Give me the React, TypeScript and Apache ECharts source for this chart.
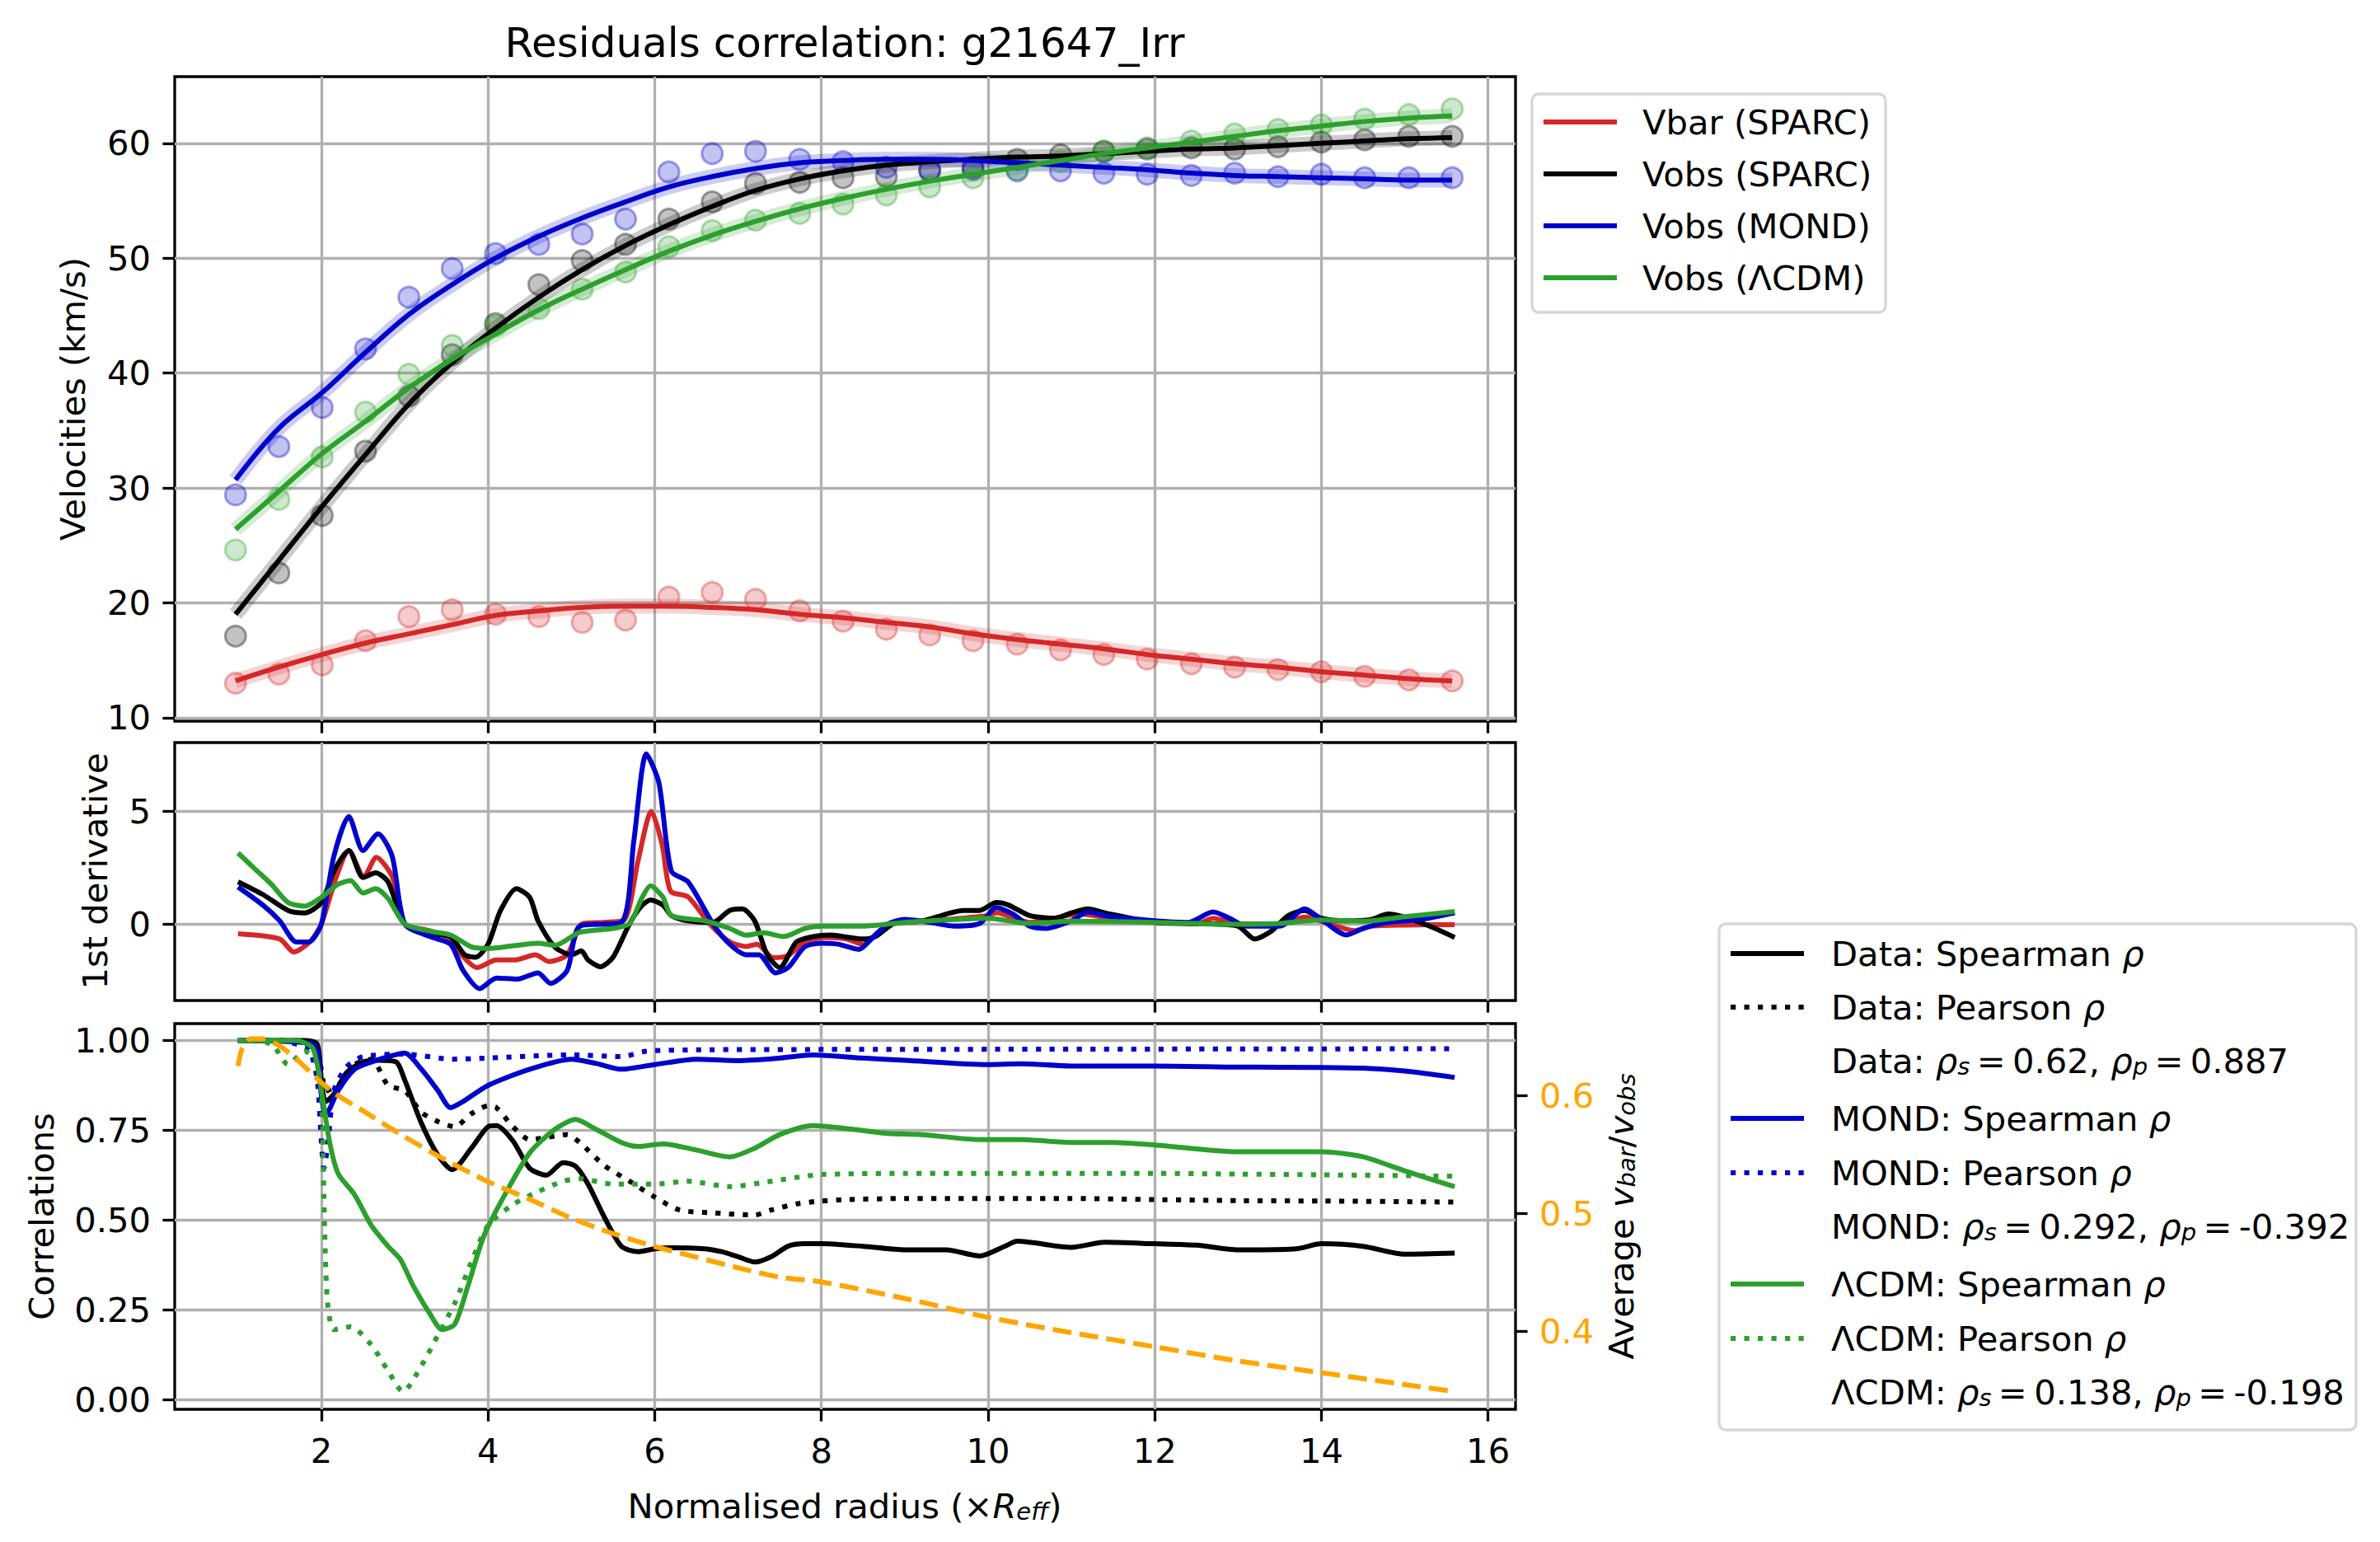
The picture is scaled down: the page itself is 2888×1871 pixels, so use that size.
import React, { useEffect, useRef } from "react";
import * as echarts from "echarts";

const W = 2888;
const H = 1871;
const FONT = '"DejaVu Sans", sans-serif';
const FS = 41.7;

const RED = "#d62728";
const BLACK = "#000000";
const BLUE = "#0000cd";
const GREEN = "#2ca02c";
const ORANGE = "#ffa500";

// ---- tick labels ----
const xTicks = [2, 4, 6, 8, 10, 12, 14, 16];
const vTicks = [10, 20, 30, 40, 50, 60];
const dTicks = [0, 5];
const cTicks = [0, 0.25, 0.5, 0.75, 1.0];
const aTicks = [0.4, 0.5, 0.6];

// ---- top panel: velocities ----
const radius = [0.97, 1.49, 2.01, 2.53, 3.05, 3.57, 4.09, 4.61, 5.13, 5.65, 6.17, 6.69, 7.21, 7.74, 8.26, 8.78, 9.3, 9.82, 10.35, 10.87, 11.39, 11.91, 12.44, 12.96, 13.48, 14.0, 14.52, 15.05, 15.57];
const vbarPts = [13.0, 13.8, 14.6, 16.7, 18.8, 19.4, 19.0, 18.8, 18.3, 18.5, 20.5, 20.9, 20.3, 19.3, 18.4, 17.7, 17.2, 16.7, 16.4, 15.9, 15.5, 15.1, 14.7, 14.4, 14.2, 14.0, 13.6, 13.3, 13.2];
const vbarFit = [13.2, 14.4, 15.5, 16.5, 17.3, 18.1, 18.9, 19.3, 19.6, 19.7, 19.7, 19.6, 19.4, 19.0, 18.7, 18.3, 17.9, 17.3, 16.8, 16.4, 16.0, 15.5, 15.1, 14.7, 14.4, 14.0, 13.7, 13.4, 13.2];
const vobsPts = [17.1, 22.6, 27.6, 33.2, 38.0, 41.6, 44.3, 47.7, 49.8, 51.2, 53.4, 54.9, 56.5, 56.6, 57.0, 57.1, 57.6, 57.9, 58.6, 59.0, 59.3, 59.5, 59.6, 59.5, 59.7, 60.1, 60.3, 60.6, 60.6];
const vobsFit = [19.0, 23.7, 28.4, 32.9, 37.3, 40.9, 43.9, 46.6, 49.0, 51.1, 52.9, 54.5, 55.9, 56.9, 57.6, 58.1, 58.4, 58.6, 58.8, 58.9, 59.1, 59.3, 59.5, 59.6, 59.8, 60.0, 60.2, 60.4, 60.5];
const mondPts = [29.4, 33.6, 37.0, 42.1, 46.6, 49.1, 50.4, 51.2, 52.1, 53.4, 57.5, 59.1, 59.3, 58.6, 58.4, 57.9, 57.7, 57.7, 57.6, 57.6, 57.4, 57.3, 57.2, 57.4, 57.1, 57.3, 57.0, 57.0, 57.0];
const mondFit = [30.7, 35.2, 38.3, 41.8, 45.1, 47.7, 50.0, 51.9, 53.5, 54.9, 56.2, 57.1, 57.8, 58.3, 58.5, 58.6, 58.6, 58.5, 58.3, 58.1, 57.9, 57.7, 57.4, 57.2, 57.1, 57.0, 56.9, 56.8, 56.8];
const lcdmPts = [24.6, 29.0, 32.7, 36.6, 39.9, 42.4, 44.1, 45.6, 47.3, 48.8, 51.0, 52.4, 53.3, 53.9, 54.7, 55.5, 56.2, 57.0, 57.7, 58.4, 59.3, 59.6, 60.2, 60.8, 61.2, 61.6, 62.1, 62.5, 63.0];
const lcdmFit = [26.4, 29.7, 33.0, 35.8, 38.7, 41.2, 43.4, 45.5, 47.3, 49.0, 50.6, 52.0, 53.2, 54.3, 55.2, 56.0, 56.7, 57.3, 57.9, 58.5, 59.1, 59.6, 60.1, 60.6, 61.1, 61.5, 61.9, 62.2, 62.4];

// ---- middle panel: 1st derivative ----
const dRedX = [1.0, 1.5, 1.67, 1.86, 2.0, 2.18, 2.33, 2.51, 2.66, 2.85, 3.0, 3.3, 3.55, 3.68, 3.87, 4.1, 4.32, 4.57, 4.73, 4.95, 5.13, 5.39, 5.64, 5.8, 5.96, 6.09, 6.19, 6.4, 6.66, 6.9, 7.1, 7.23, 7.42, 7.6, 7.8, 8.04, 8.3, 8.5, 8.7, 8.85, 9.0, 9.5, 10.0, 10.1, 10.5, 11.1, 11.5, 12.5, 12.7, 13.0, 13.5, 13.8, 14.1, 14.4, 14.6, 15.0, 15.6];
const dRedY = [-0.44, -0.67, -1.25, -0.8, 0, 2.1, 3.26, 2.1, 2.96, 2.1, 0, -0.3, -0.67, -1.37, -1.94, -1.6, -1.6, -1.37, -1.67, -1.37, 0, 0.07, 0.2, 2.8, 5.0, 3.5, 1.46, 1.2, 0, -0.8, -1.0, -0.9, -1.5, -1.4, -0.8, -0.6, -0.67, -0.9, -0.3, 0, 0.07, 0.2, 0.37, 0.5, 0.07, 0.44, 0.25, 0.0, 0.25, 0, 0, 0.3, 0.0, -0.3, -0.1, -0.05, -0.03];
const dBlackX = [1.0, 1.3, 1.6, 1.8, 2.0, 2.15, 2.33, 2.5, 2.65, 2.8, 3.0, 3.3, 3.55, 3.72, 3.85, 4.0, 4.15, 4.34, 4.5, 4.6, 4.8, 5.0, 5.12, 5.2, 5.35, 5.5, 5.7, 5.85, 5.95, 6.1, 6.2, 6.4, 6.7, 6.9, 7.05, 7.2, 7.35, 7.5, 7.7, 7.9, 8.1, 8.5, 8.65, 8.9, 9.2, 9.5, 9.7, 9.9, 10.1, 10.25, 10.5, 10.8, 11.0, 11.2, 11.4, 12.0, 12.5, 13.0, 13.2, 13.4, 13.6, 13.8, 14.0, 14.3, 14.6, 14.8, 15.0, 15.3, 15.6];
const dBlackY = [1.87, 1.3, 0.6, 0.49, 0.95, 2.34, 3.26, 2.06, 2.27, 1.87, 0, -0.44, -0.56, -1.37, -1.48, -0.9, 0.6, 1.57, 1.18, 0.14, -1.02, -1.37, -1.2, -1.6, -1.9, -1.48, 0.02, 0.83, 1.06, 0.83, 0.37, 0.14, 0.07, 0.6, 0.67, 0.14, -1.37, -1.94, -0.8, -0.56, -0.49, -0.67, -0.56, 0.07, 0.12, 0.44, 0.6, 0.6, 0.95, 0.83, 0.37, 0.25, 0.49, 0.67, 0.49, 0.07, 0.02, -0.1, -0.67, -0.32, 0.37, 0.6, 0.25, 0.14, 0.2, 0.44, 0.3, -0.1, -0.6];
const dBlueX = [1.0, 1.3, 1.5, 1.7, 1.85, 2.0, 2.15, 2.33, 2.5, 2.68, 2.85, 3.0, 3.3, 3.55, 3.7, 3.9, 4.1, 4.35, 4.6, 4.75, 4.95, 5.1, 5.6, 5.75, 5.9, 6.05, 6.2, 6.4, 6.7, 6.9, 7.1, 7.25, 7.45, 7.6, 7.8, 8.0, 8.2, 8.45, 8.6, 8.8, 9.0, 9.3, 9.6, 9.9, 10.1, 10.3, 10.5, 10.7, 11.0, 11.2, 11.4, 12.0, 12.4, 12.7, 12.9, 13.1, 13.5, 13.8, 14.0, 14.3, 14.5, 14.8, 15.2, 15.6];
const dBlueY = [1.64, 0.83, 0.14, -0.8, -0.8, 0, 3.0, 4.77, 3.26, 4.0, 3.0, 0, -0.56, -0.9, -2.06, -2.87, -2.4, -2.45, -2.17, -2.64, -2.06, -0.1, 0.07, 3.7, 7.55, 6.27, 2.34, 1.87, 0, -0.9, -1.37, -1.37, -2.17, -1.94, -1.02, -0.86, -0.9, -1.13, -0.67, 0, 0.2, 0.07, -0.1, 0.02, 0.72, 0.44, -0.1, -0.2, 0.14, 0.53, 0.37, 0.14, 0.07, 0.53, 0.25, -0.1, -0.1, 0.67, 0.2, -0.49, -0.2, 0.07, 0.2, 0.49];
const dGreenX = [1.0, 1.2, 1.4, 1.6, 1.8, 2.0, 2.2, 2.35, 2.5, 2.65, 2.8, 3.0, 3.3, 3.55, 3.8, 4.0, 4.3, 4.6, 4.8, 5.1, 5.5, 5.7, 5.85, 5.95, 6.1, 6.2, 6.6, 6.9, 7.1, 7.3, 7.55, 7.8, 8.0, 8.5, 9.0, 10.0, 10.5, 11.0, 12.0, 13.0, 13.5, 14.0, 14.5, 15.0, 15.6];
const dGreenY = [3.15, 2.45, 1.76, 0.95, 0.79, 1.18, 1.76, 1.92, 1.37, 1.57, 1.13, 0, -0.32, -0.49, -1.02, -1.09, -0.97, -0.86, -0.95, -0.37, -0.2, 0.02, 1.18, 1.69, 1.18, 0.37, 0.14, -0.2, -0.5, -0.39, -0.56, -0.2, -0.1, -0.1, 0.07, 0.25, 0.02, 0.12, 0.07, -0.02, 0.02, 0.18, 0.12, 0.32, 0.55];

// ---- bottom panel: correlations ----
const cDataSX = [1.0, 1.5, 1.8, 1.95, 2.0, 2.05, 2.15, 2.3, 2.5, 2.7, 2.9, 3.0, 3.2, 3.4, 3.57, 3.8, 4.0, 4.1, 4.3, 4.5, 4.7, 4.9, 5.05, 5.2, 5.4, 5.6, 5.8, 6.0, 6.2, 6.6, 6.8, 7.0, 7.2, 7.4, 7.6, 7.8, 8.0, 8.5, 9.0, 9.5, 9.9, 10.2, 10.35, 11.0, 11.4, 12.0, 12.5, 13.0, 13.7, 14.0, 14.5, 15.0, 15.6];
const cDataSY = [1.0, 1.0, 1.0, 0.99, 0.89, 0.83, 0.85, 0.91, 0.94, 0.945, 0.94, 0.89, 0.77, 0.68, 0.64, 0.7, 0.76, 0.763, 0.72, 0.644, 0.625, 0.66, 0.65, 0.6, 0.506, 0.427, 0.412, 0.42, 0.423, 0.42, 0.412, 0.398, 0.383, 0.398, 0.427, 0.434, 0.434, 0.427, 0.417, 0.417, 0.4, 0.427, 0.441, 0.424, 0.438, 0.434, 0.43, 0.417, 0.42, 0.434, 0.427, 0.405, 0.408];
const cDataPX = [1.0, 1.7, 1.9, 2.0, 2.05, 2.2, 2.4, 2.6, 2.8, 3.0, 3.2, 3.4, 3.6, 3.8, 4.0, 4.1, 4.3, 4.5, 4.7, 4.95, 5.1, 5.4, 5.7, 6.0, 6.3, 6.7, 7.2, 7.4, 7.7, 8.0, 8.3, 9.0, 10.0, 11.0, 12.0, 13.0, 14.0, 15.6];
const cDataPY = [1.0, 1.0, 0.977, 0.92, 0.86, 0.875, 0.933, 0.948, 0.875, 0.86, 0.8, 0.774, 0.76, 0.796, 0.818, 0.813, 0.76, 0.724, 0.73, 0.738, 0.716, 0.651, 0.608, 0.564, 0.528, 0.52, 0.514, 0.528, 0.545, 0.553, 0.557, 0.56, 0.56, 0.56, 0.557, 0.554, 0.553, 0.55];
const cMondSX = [1.0, 1.9, 2.0, 2.05, 2.1, 2.2, 2.4, 2.6, 2.8, 3.0, 3.2, 3.4, 3.55, 3.7, 4.0, 4.5, 5.0, 5.3, 5.6, 6.0, 6.5, 7.0, 7.5, 7.9, 8.5, 9.0, 10.0, 10.4, 11.0, 12.0, 13.0, 14.0, 14.5, 15.0, 15.6];
const cMondSY = [1.0, 0.99, 0.847, 0.796, 0.81, 0.86, 0.92, 0.94, 0.955, 0.965, 0.92, 0.86, 0.813, 0.83, 0.875, 0.92, 0.948, 0.936, 0.92, 0.933, 0.948, 0.944, 0.951, 0.96, 0.951, 0.945, 0.933, 0.935, 0.929, 0.929, 0.926, 0.925, 0.923, 0.915, 0.897];
const cMondPX = [1.0, 1.5, 1.7, 1.85, 1.95, 2.0, 2.03, 2.08, 2.15, 2.3, 2.5, 3.0, 3.57, 4.0, 5.0, 5.6, 5.9, 6.5, 8.0, 15.6];
const cMondPY = [1.0, 1.0, 0.99, 0.977, 0.89, 0.716, 0.644, 0.716, 0.86, 0.926, 0.955, 0.962, 0.948, 0.951, 0.96, 0.955, 0.97, 0.974, 0.975, 0.977];
const cLcdmSX = [1.0, 1.7, 1.9, 2.0, 2.1, 2.2, 2.4, 2.6, 2.8, 2.95, 3.1, 3.3, 3.45, 3.6, 3.75, 3.95, 4.2, 4.5, 4.8, 5.05, 5.3, 5.6, 5.8, 6.1, 6.5, 6.9, 7.2, 7.5, 7.9, 8.4, 8.8, 9.2, 9.9, 10.4, 11.0, 11.5, 12.0, 13.0, 13.6, 14.0, 14.5, 15.0, 15.6];
const cLcdmSY = [1.0, 1.0, 0.977, 0.86, 0.716, 0.63, 0.57, 0.485, 0.427, 0.39, 0.318, 0.24, 0.195, 0.21, 0.31, 0.456, 0.57, 0.687, 0.752, 0.78, 0.752, 0.716, 0.705, 0.712, 0.695, 0.676, 0.7, 0.738, 0.763, 0.752, 0.741, 0.738, 0.724, 0.724, 0.716, 0.716, 0.709, 0.69, 0.69, 0.69, 0.676, 0.637, 0.593];
const cLcdmPX = [1.0, 1.4, 1.6, 1.8, 1.93, 2.0, 2.03, 2.07, 2.15, 2.35, 2.6, 2.8, 2.98, 3.2, 3.4, 3.6, 3.8, 4.0, 4.3, 4.6, 4.9, 5.1, 5.5, 6.0, 6.4, 6.9, 7.4, 7.8, 8.0, 9.0, 10.0, 11.0, 12.0, 13.0, 14.0, 15.6];
const cLcdmPY = [1.0, 0.99, 0.933, 0.97, 0.948, 0.86, 0.57, 0.282, 0.195, 0.203, 0.152, 0.08, 0.022, 0.094, 0.18, 0.268, 0.383, 0.485, 0.543, 0.579, 0.608, 0.615, 0.6, 0.6, 0.608, 0.593, 0.608, 0.622, 0.627, 0.63, 0.63, 0.63, 0.63, 0.628, 0.626, 0.622];
const avgX = [1.0, 1.05, 1.15, 1.3, 1.5, 1.7, 2.0, 2.2, 2.5, 3.0, 3.5, 4.0, 4.5, 5.0, 5.5, 6.0, 6.5, 7.0, 7.5, 8.0, 9.0, 10.0, 11.0, 12.0, 13.0, 14.0, 15.0, 15.6];
const avgY = [0.625, 0.64, 0.648, 0.648, 0.642, 0.631, 0.611, 0.6, 0.587, 0.565, 0.545, 0.527, 0.512, 0.496, 0.483, 0.472, 0.463, 0.454, 0.446, 0.442, 0.428, 0.412, 0.399, 0.387, 0.375, 0.365, 0.355, 0.349];

const pair = (xs: number[], ys: number[]) => xs.map((x, i) => [x, ys[i]]);

const GRID_L = 212;
const GRID_W = 1627;
const grids = [
  { left: GRID_L, top: 93, width: GRID_W, height: 782 },
  { left: GRID_L, top: 901, width: GRID_W, height: 313 },
  { left: GRID_L, top: 1242, width: GRID_W, height: 468 },
];

const tickStyle = { color: "#000", width: 3.3 };
const gridLine = { show: true, lineStyle: { color: "#b0b0b0", width: 3.3 } };
const labelStyle = { fontSize: FS, fontFamily: FONT, color: "#000", margin: 29 };

function makeX(gridIndex: number, showLabel: boolean) {
  return {
    type: "value",
    gridIndex,
    min: 0.24,
    max: 16.33,
    splitNumber: 8,
    axisLine: { show: false, onZero: false },
    axisTick: { show: true, length: 14.6, lineStyle: tickStyle, customValues: xTicks },
    axisLabel: { ...labelStyle, show: showLabel, customValues: xTicks },
    splitLine: gridLine,
  };
}

function makeY(gridIndex: number, min: number, max: number, ticks: number[], fmt: (v: number) => string) {
  return {
    type: "value",
    gridIndex,
    min,
    max,
    axisLine: { show: false, onZero: false },
    axisTick: { show: true, length: 14.6, lineStyle: tickStyle, customValues: ticks },
    axisLabel: { ...labelStyle, customValues: ticks, formatter: fmt },
    splitLine: gridLine,
  };
}

function velSeries(pts: number[], fit: number[], rgb: string, color: string) {
  return [
    {
      type: "scatter",
      xAxisIndex: 0,
      yAxisIndex: 0,
      data: pair(radius, pts),
      symbolSize: 25,
      itemStyle: { color: `rgba(${rgb},0.3)`, borderColor: `rgba(${rgb},0.45)`, borderWidth: 3 },
      z: 2,
    },
    {
      type: "line",
      xAxisIndex: 0,
      yAxisIndex: 0,
      data: pair(radius, fit),
      smooth: 0.4,
      showSymbol: false,
      lineStyle: { color, width: 18, opacity: 0.2 },
      z: 2,
    },
    {
      type: "line",
      xAxisIndex: 0,
      yAxisIndex: 0,
      data: pair(radius, fit),
      smooth: 0.4,
      showSymbol: false,
      lineStyle: { color, width: 6 },
      z: 3,
    },
  ];
}

function curve(xi: number, yi: number, xs: number[], ys: number[], color: string, dash?: any) {
  return {
    type: "line",
    xAxisIndex: xi,
    yAxisIndex: yi,
    data: pair(xs, ys),
    smooth: 0.25,
    showSymbol: false,
    lineStyle: { color, width: 6, type: dash || "solid", cap: "butt" },
    z: 3,
  };
}

const DOT = [6.2, 10.3];
const DASH = [23, 10];

const sub = { fontSize: 29, fontStyle: "italic", fontFamily: FONT, lineHeight: 16, verticalAlign: "bottom" };
const ital = { fontSize: FS, fontStyle: "italic", fontFamily: FONT };
const RICH = { i: ital, s: sub };

function txt(x: number, y: number, text: string, extra: any = {}) {
  return {
    type: "text",
    x,
    y,
    style: { text, fontSize: FS, fontFamily: FONT, fill: "#000", verticalAlign: "middle", align: "left", rich: RICH, ...extra },
    z: 20,
  };
}

function handle(x1: number, x2: number, y: number, color: string, dash?: number[]) {
  return {
    type: "line",
    shape: { x1, y1: y, x2, y2: y },
    style: { stroke: color, lineWidth: 6, lineDash: dash || null, lineCap: "butt" },
    z: 20,
  };
}

const leg1Rows = [
  { y: 148, label: "Vbar (SPARC)", color: RED },
  { y: 211, label: "Vobs (SPARC)", color: BLACK },
  { y: 274, label: "Vobs (MOND)", color: BLUE },
  { y: 337, label: "Vobs (ΛCDM)", color: GREEN },
];

const T = "\u2009";
const leg2Rows = [
  { y: 1157, label: "Data: Spearman {i|ρ}", color: BLACK, dash: null as any, show: true },
  { y: 1222, label: "Data: Pearson {i|ρ}", color: BLACK, dash: DOT, show: true },
  { y: 1287, label: `Data: {i|ρ}{s|s}${T}=${T}0.62, {i|ρ}{s|p}${T}=${T}0.887`, color: BLACK, dash: null, show: false },
  { y: 1357, label: "MOND: Spearman {i|ρ}", color: BLUE, dash: null, show: true },
  { y: 1423, label: "MOND: Pearson {i|ρ}", color: BLUE, dash: DOT, show: true },
  { y: 1488, label: `MOND: {i|ρ}{s|s}${T}=${T}0.292, {i|ρ}{s|p}${T}=${T}-0.392`, color: BLUE, dash: null, show: false },
  { y: 1558, label: "ΛCDM: Spearman {i|ρ}", color: GREEN, dash: null, show: true },
  { y: 1624, label: "ΛCDM: Pearson {i|ρ}", color: GREEN, dash: DOT, show: true },
  { y: 1689, label: `ΛCDM: {i|ρ}{s|s}${T}=${T}0.138, {i|ρ}{s|p}${T}=${T}-0.198`, color: GREEN, dash: null, show: false },
];

function centered(x: number, y: number, text: string, rotation = 0) {
  const t: any = txt(x, y, text, { align: "center" });
  if (rotation) t.rotation = rotation;
  return t;
}

function buildGraphics() {
  const g: any[] = [];
  g.push({
    type: "text",
    x: 1025,
    y: 52,
    style: { text: "Residuals correlation: g21647_Irr", fontSize: 50, fontFamily: FONT, fill: "#000", align: "center", verticalAlign: "middle" },
    z: 20,
  });
  g.push(centered(1025, 1827, "Normalised radius (×{i|R}{s|eff})"));
  g.push(centered(88, 484, "Velocities (km/s)", Math.PI / 2));
  g.push(centered(115, 1057, "1st derivative", Math.PI / 2));
  g.push(centered(50, 1476, "Correlations", Math.PI / 2));
  g.push(centered(1967, 1476, "Average {i|v}{s|bar}/{i|v}{s|obs}", Math.PI / 2));

  // legend 1
  g.push({
    type: "rect",
    shape: { x: 1859, y: 114, width: 429, height: 265, r: 8 },
    style: { fill: "#ffffff", stroke: "#d6d6d6", lineWidth: 3.3 },
    z: 19,
  });
  leg1Rows.forEach((r) => {
    g.push(handle(1873, 1962, r.y, r.color));
    g.push(txt(1993, r.y, r.label));
  });

  // legend 2
  g.push({
    type: "rect",
    shape: { x: 2086, y: 1121, width: 773, height: 614, r: 8 },
    style: { fill: "#ffffff", stroke: "#d6d6d6", lineWidth: 3.3 },
    z: 19,
  });
  leg2Rows.forEach((r) => {
    if (r.show) g.push(handle(2100, 2189, r.y, r.color, r.dash));
    g.push(txt(2222, r.y, r.label));
  });
  return g;
}

function buildOption() {
  const series: any[] = [
    ...velSeries(vbarPts, vbarFit, "214,39,40", RED),
    ...velSeries(vobsPts, vobsFit, "0,0,0", BLACK),
    ...velSeries(mondPts, mondFit, "0,0,205", BLUE),
    ...velSeries(lcdmPts, lcdmFit, "44,160,44", GREEN),
    curve(1, 1, dRedX, dRedY, RED),
    curve(1, 1, dBlackX, dBlackY, BLACK),
    curve(1, 1, dBlueX, dBlueY, BLUE),
    curve(1, 1, dGreenX, dGreenY, GREEN),
    curve(2, 2, cDataSX, cDataSY, BLACK),
    curve(2, 2, cDataPX, cDataPY, BLACK, DOT),
    curve(2, 2, cMondSX, cMondSY, BLUE),
    curve(2, 2, cMondPX, cMondPY, BLUE, DOT),
    curve(2, 2, cLcdmSX, cLcdmSY, GREEN),
    curve(2, 2, cLcdmPX, cLcdmPY, GREEN, DOT),
    curve(2, 3, avgX, avgY, ORANGE, DASH),
  ];

  return {
    animation: false,
    backgroundColor: "#ffffff",
    grid: grids.map((g) => ({ ...g, show: true, borderColor: "#000", borderWidth: 3.3, backgroundColor: "transparent", containLabel: false })),
    xAxis: [makeX(0, false), makeX(1, false), makeX(2, true)],
    yAxis: [
      makeY(0, 9.7, 65.8, vTicks, (v) => String(v)),
      makeY(1, -3.4, 8.05, dTicks, (v) => String(v)),
      makeY(2, -0.027, 1.047, cTicks, (v) => v.toFixed(2)),
      {
        type: "value",
        gridIndex: 2,
        position: "right",
        min: 0.334,
        max: 0.661,
        axisLine: { show: false, onZero: false },
        axisTick: { show: true, length: 14.6, lineStyle: tickStyle, customValues: aTicks },
        axisLabel: { ...labelStyle, color: ORANGE, customValues: aTicks, formatter: (v: number) => v.toFixed(1) },
        splitLine: { show: false },
      },
    ],
    series,
    graphic: buildGraphics(),
  };
}

export default function App() {
  const ref = useRef<HTMLDivElement>(null);
  useEffect(() => {
    document.body.style.margin = "0";
    if (!ref.current) return;
    const chart = echarts.init(ref.current, null, { renderer: "svg", width: W, height: H });
    chart.setOption(buildOption() as any);
    return () => chart.dispose();
  }, []);
  return <div ref={ref} style={{ width: W, height: H }} />;
}
